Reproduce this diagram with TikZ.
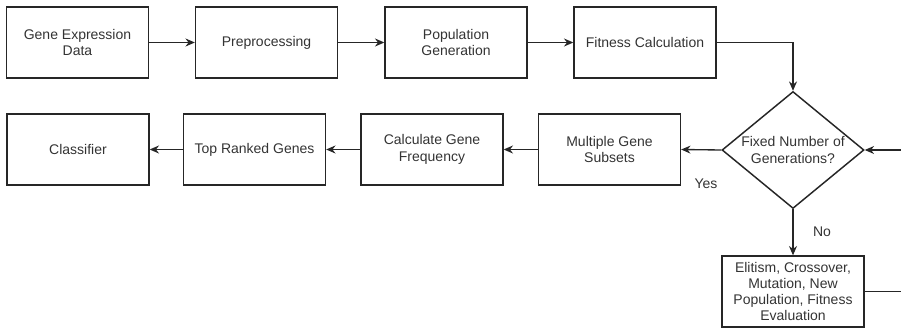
\documentclass[tikz,border=0pt]{standalone}
\usepackage{fontspec}
\setmainfont{Liberation Sans}
\usetikzlibrary{shapes.geometric,arrows.meta}
\begin{document}
\begin{tikzpicture}[x=0.75pt,y=-0.75pt,
  font=\fontsize{10.5}{12.4}\selectfont,
  box/.style={draw=black!85,line width=1pt,minimum width=142*0.75pt,minimum height=71*0.75pt,inner sep=1pt,align=center,text=black!80},
  decision/.style={draw=black!85,line width=1.1pt,diamond,minimum width=142*0.75pt,minimum height=117*0.75pt,inner sep=0pt},
  conn/.style={draw=black!85,line width=1pt,-{Stealth[length=7pt,width=6pt]}},
  lbl/.style={text=black!80}]
\useasboundingbox (0,0) rectangle (901,328);
\clip (0,0) rectangle (901,328);
\node[box] (b1) at (77.5,42.5) {Gene Expression\\Data};
\node[box] (b2) at (266.5,42.5) {Preprocessing};
\node[box] (b3) at (456,42.5) {Population\\Generation};
\node[box] (b4) at (645,42.5) {Fitness Calculation};
\node[decision,label={[align=center,text=black!80]center:Fixed Number of\\Generations?}] (d) at (793,150) {};
\node[box] (mgs) at (609.5,149.5) {Multiple Gene\\Subsets};
\node[box] (cgf) at (432,149.5) {Calculate Gene\\Frequency};
\node[box] (trg) at (254.5,149.5) {Top Ranked Genes};
\node[box] (cls) at (78,149.5) {Classifier};
\node[box,font=\fontsize{10.5}{12.2}\selectfont] (el) at (793,291.5) {Elitism, Crossover,\\Mutation, New\\Population, Fitness\\Evaluation};
\coordinate (loop) at (915,220);
\draw[conn] (b1) -- (b2);
\draw[conn] (b2) -- (b3);
\draw[conn] (b3) -- (b4);
\draw[conn] (b4.east) -| (d.north);
\draw[conn] (d.west) -- (mgs.east);
\draw[conn] (mgs) -- (cgf);
\draw[conn] (cgf) -- (trg);
\draw[conn] (trg) -- (cls);
\draw[conn] (d.south) -- (el.north);
\draw[conn] (el.east) -| (loop) |- (d.east);
\node[lbl] (yes) at (706,184) {Yes};
\node[lbl] (no) at (822,232) {No};
\end{tikzpicture}
\end{document}
